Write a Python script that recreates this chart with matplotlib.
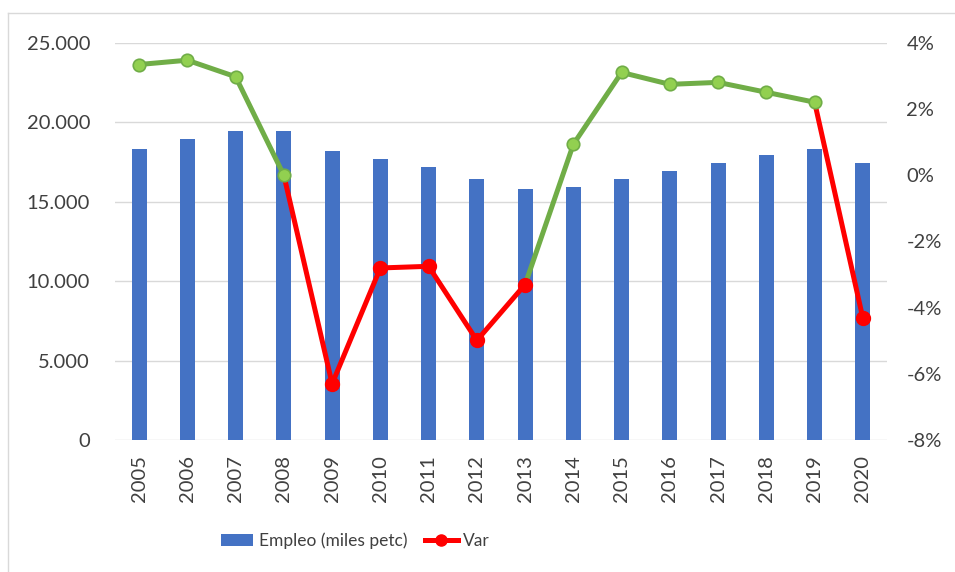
import matplotlib
matplotlib.use("Agg")
import matplotlib.pyplot as plt
from matplotlib import font_manager
from matplotlib.lines import Line2D
from matplotlib.patches import Patch
from matplotlib.ticker import FuncFormatter, FixedLocator

years = ["2005", "2006", "2007", "2008", "2009", "2010", "2011", "2012",
         "2013", "2014", "2015", "2016", "2017", "2018", "2019", "2020"]
empleo = [18330, 18950, 19460, 19460, 18180, 17700, 17200, 16440,
          15800, 15930, 16440, 16940, 17440, 17950, 18330, 17440]
var_pct = [3.35, 3.48, 2.98, 0.0, -6.30, -2.80, -2.75, -4.99,
           -3.30, 0.94, 3.11, 2.75, 2.81, 2.51, 2.21, -4.32]
left_ticks = [0, 5000, 10000, 15000, 20000, 25000]
right_ticks = [-8, -6, -4, -2, 0, 2, 4]

plt.rcParams['axes.unicode_minus'] = False
avail = {f.name for f in font_manager.fontManager.ttflist}
main_font = 'Lato' if 'Lato' in avail else 'DejaVu Sans'
narrow_font = 'Liberation Sans Narrow' if 'Liberation Sans Narrow' in avail else main_font
plt.rcParams['font.family'] = [main_font, 'DejaVu Sans']

TXT = '#404040'
BLUE = '#4472C4'
GREEN = '#70AD47'
GREEN_M = '#92D050'
RED = '#FF0000'

W, H = 955, 572
fig = plt.figure(figsize=(W / 100, H / 100), dpi=100)
ax = fig.add_axes([115 / W, 1 - 440 / H, 772 / W, 397 / H])
ax2 = ax.twinx()

x = list(range(len(years)))
ax.bar(x, empleo, width=0.31, color=BLUE, zorder=2)
ax.set_xlim(-0.5, len(years) - 0.5)
ax.set_ylim(0, 25000)
ax.yaxis.set_major_locator(FixedLocator(left_ticks))
ax.yaxis.set_major_formatter(FuncFormatter(lambda v, p: f"{int(v):,}".replace(",", ".")))
ax.grid(axis='y', color='#D9D9D9', lw=1.0, zorder=0)
ax.set_axisbelow(True)
for s in ax.spines.values():
    s.set_visible(False)
for s in ax2.spines.values():
    s.set_visible(False)
ax.set_xticks(x)
ax.set_xticklabels(years, rotation=90)
ax.tick_params(axis='x', length=0, pad=11, labelsize=14.5, labelcolor=TXT)
ax.tick_params(axis='y', length=0, pad=18, labelsize=14.5, labelcolor=TXT)

ax2.set_ylim(-8, 4)
ax2.yaxis.set_major_locator(FixedLocator(right_ticks))
ax2.yaxis.set_major_formatter(FuncFormatter(lambda v, p: f"{v:.0f}%"))
ax2.tick_params(axis='y', length=0, pad=14, labelsize=14.5, labelcolor=TXT)

# line segments coloured by sign of the end point
for i in range(1, len(x)):
    c = GREEN if var_pct[i] >= 0 else RED
    ax2.plot([x[i - 1], x[i]], [var_pct[i - 1], var_pct[i]], color=c, lw=3.6,
             solid_capstyle='round', zorder=3)
for i in range(len(x)):
    if var_pct[i] >= 0:
        ax2.plot(x[i], var_pct[i], 'o', ms=9, mfc=GREEN_M, mec=GREEN, mew=1.2, zorder=4)
    else:
        ax2.plot(x[i], var_pct[i], 'o', ms=10, mfc=RED, mec=RED, zorder=4)

handles = [Patch(facecolor=BLUE, edgecolor='none', label='Empleo (miles petc)'),
           Line2D([], [], color=RED, lw=3.6, marker='o', ms=8, mfc=RED, mec=RED, label='Var')]
leg = fig.legend(handles=handles, loc='center', bbox_to_anchor=(355 / W, 1 - 541 / H),
                 ncol=2, frameon=False, handlelength=1.9, handleheight=0.7,
                 handletextpad=0.3, columnspacing=1.0,
                 prop={'family': [narrow_font, 'DejaVu Sans'], 'size': 12.5})
for t in leg.get_texts():
    t.set_color(TXT)

# chart border (left and top visible)
fig.add_artist(Line2D([8 / W, 8 / W], [0, 1 - 13 / H], color='#D9D9D9', lw=1.0))
fig.add_artist(Line2D([8 / W, 1], [1 - 13 / H, 1 - 13 / H], color='#D9D9D9', lw=1.0))

fig.savefig('out.png', dpi=100)
